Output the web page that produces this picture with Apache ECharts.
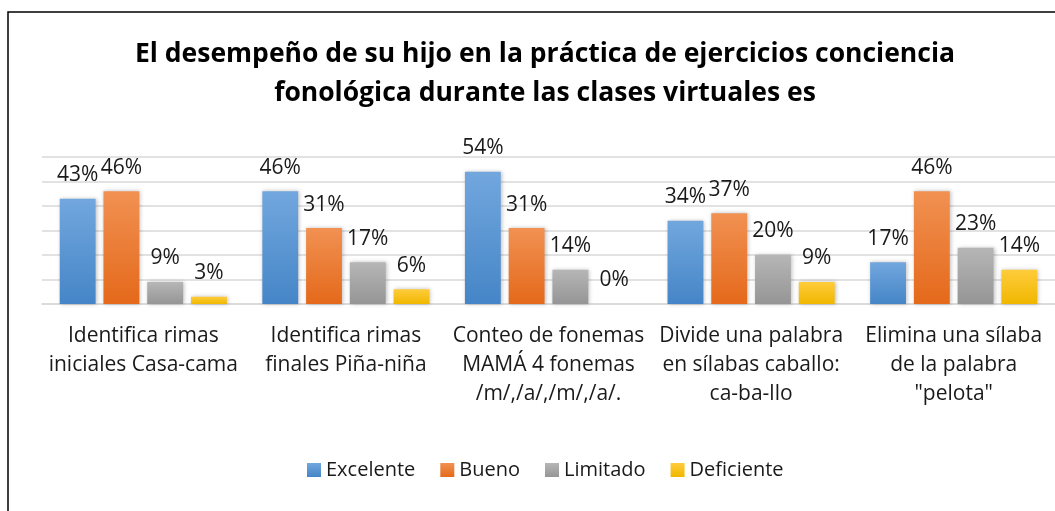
<!DOCTYPE html>
<html>
<head>
<meta charset="utf-8">
<script src="https://cdn.jsdelivr.net/npm/echarts@6/dist/echarts.min.js"></script>
<style>
  html, body { margin: 0; padding: 0; background: #fff; }
  #chart { width: 1055px; height: 511px; }
</style>
</head>
<body>
<div id="chart"></div>
<script>
var categories = [
  'Identifica rimas\niniciales Casa-cama',
  'Identifica rimas\nfinales Piña-niña',
  'Conteo de fonemas\nMAMÁ 4 fonemas\n/m/,/a/,/m/,/a/.',
  'Divide una palabra\nen sílabas caballo:\nca-ba-llo',
  'Elimina una sílaba\nde la palabra\n"pelota"'
];
var excelente = [43, 46, 54, 34, 17];
var bueno = [46, 31, 31, 37, 46];
var limitado = [9, 17, 14, 20, 23];
var deficiente = [3, 6, 0, 9, 14];

var FONT = 'Open Sans';

function grad (top, bottom) {
  return new echarts.graphic.LinearGradient(0, 0, 0, 1, [
    { offset: 0, color: top },
    { offset: 1, color: bottom }
  ]);
}

function makeSeries (name, data, top, bottom) {
  return {
    name: name,
    type: 'bar',
    data: data,
    barGap: '22%',
    barCategoryGap: '17.5%',
    itemStyle: {
      color: grad(top, bottom),
      shadowColor: 'rgba(0,0,0,0.25)',
      shadowBlur: 4,
      shadowOffsetX: 1,
      shadowOffsetY: 0
    },
    label: {
      show: true,
      position: 'top',
      distance: 13,
      formatter: '{c}%',
      fontFamily: FONT,
      fontSize: 21,
      color: '#1a1a1a'
    }
  };
}

var chart = echarts.init(document.getElementById('chart'));
chart.setOption({
  animation: false,
  textStyle: { fontFamily: FONT },
  graphic: [{
    type: 'rect',
    shape: { x: 8, y: 12, width: 1200, height: 700 },
    style: { fill: 'none', stroke: '#000', lineWidth: 1.5 },
    silent: true
  }],
  title: {
    text: 'El desempeño de su hijo en la práctica de ejercicios conciencia\nfonológica durante las clases virtuales es',
    left: 540,
    top: 30,
    textAlign: 'center',
    textStyle: {
      fontFamily: FONT,
      fontSize: 26.5,
      fontWeight: 'bold',
      lineHeight: 39,
      color: '#000'
    }
  },
  legend: {
    data: ['Excelente', 'Bueno', 'Limitado', 'Deficiente'],
    left: 302,
    top: 455,
    itemWidth: 14,
    itemHeight: 14,
    itemGap: 25,
    icon: 'rect',
    textStyle: { fontFamily: FONT, fontSize: 20, color: '#1a1a1a' }
  },
  grid: {
    left: 42,
    top: 157,
    width: 1019,
    height: 147,
    containLabel: false
  },
  xAxis: {
    type: 'category',
    data: categories,
    axisTick: { show: false },
    axisLine: { lineStyle: { color: '#d9d9d9', width: 1.5 } },
    axisLabel: {
      interval: 0,
      margin: 18,
      fontFamily: FONT,
      fontSize: 21,
      lineHeight: 29,
      color: '#1a1a1a'
    }
  },
  yAxis: {
    type: 'value',
    min: 0,
    max: 60,
    interval: 10,
    axisLabel: { show: false },
    axisLine: { show: false },
    axisTick: { show: false },
    splitLine: { lineStyle: { color: '#d9d9d9', width: 1.5 } }
  },
  series: [
    makeSeries('Excelente', excelente, '#72a7de', '#4585c7'),
    makeSeries('Bueno', bueno, '#f19152', '#e4691b'),
    makeSeries('Limitado', limitado, '#b6b6b6', '#959595'),
    makeSeries('Deficiente', deficiente, '#ffcc3c', '#f0b700')
  ]
});
</script>
</body>
</html>
